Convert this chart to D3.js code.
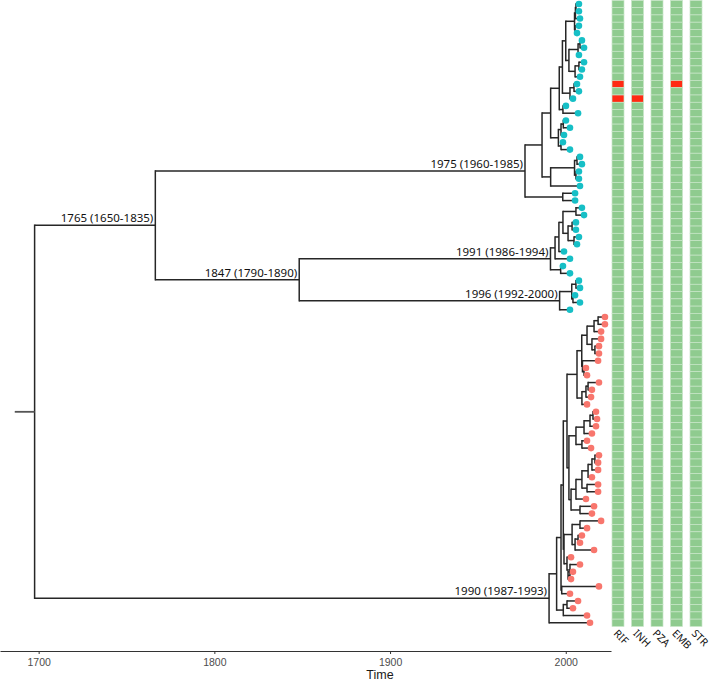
<!DOCTYPE html>
<html><head><meta charset="utf-8">
<script src="https://cdn.jsdelivr.net/npm/d3@7"></script>
<style>
html,body{margin:0;padding:0;background:#fff;}
svg{display:block;}
</style></head>
<body>
<svg id="chart" width="711" height="682"></svg>
<script>
// ---------- DATA ----------
// Dated phylogeny, Newick-like: leaf = group@tipYear, internal = (children)@nodeYear[optional label]
// group: b = lineage shown in teal, r = lineage shown in red
const subS1 = `(((b@2007.5,b@2007.5)@2005.8,b@2008.1)@2005.5,(b@2007.5,b@2006.4)@2005.3)@2005.0`;
const subS2 = `(((b@2009.2,b@2010.4)@2008.1,b@2007.5)@2007.0,((b@2010.4,b@2009.2)@2007.5,b@2008.1)@2005.3)@2001.8`;
const subT = `((b@2006.4,b@2007.5)@2004.7,b@2004.1)@2002.4`;
const subR = `(b@2000.1,b@2007.0)@1998.4`;
const subQ = `(((b@2000.1,b@2002.4)@1998.6,b@1999.0)@1997.3,(b@1998.4,b@2002.4)@1997.3)@1995.8`;
const subX = `((b@2008.1,b@2009.2)@2006.4,(b@2007.5,b@2007.5)@2005.8)@2005.0`;
const cladeB = `((((((${subS1},${subS2})@2000.0,${subT})@1998.1,${subR})@1996.3,${subQ})@1991.4,(${subX},b@2008.1)@1991.4)@1986.5,(b@2005.3,b@2005.3)@1998.3)@1976.8[1975 (1960-1985)]`;
const cladeD = `(((((b@2009.2,b@2010.4)@2005.8,((b@2005.8,b@2005.8)@2003.6,(b@2007.5,b@2006.4)@2004.7)@2001.3)@1998.4,b@1999.0)@1996.1,b@2002.4)@1993.9,(b@1998.4,b@2002.4)@1997.1)@1991.3[1991 (1986-1994)]`;
const cladeE = `(((b@2007.5,b@2008.1)@2005.8,(b@2005.3,b@2008.1)@2004.1)@2003.4,b@2002.4)@1996.5[1996 (1992-2000)]`;
const cladeU = `(((((r@2022.3,r@2022.3)@2018.4,r@2020.1)@2016.1,(r@2020.1,(r@2018.9,r@2018.9)@2016.6)@2014.9)@2012.1,(r@2018.4,(r@2011.5,r@2012.1)@2010.4)@2009.5)@2009.1,(((r@2018.9,r@2014.9)@2012.7,r@2014.4)@2011.5,r@2012.1)@2009.2)@2006.4`;
const cladeYZ = `(((((r@2017.2,r@2017.8)@2015.5,r@2017.2)@2013.8,r@2014.9)@2010.4,(r@2012.1,r@2014.4)@2009.2)@2005.8,((((((r@2018.9,r@2018.4)@2016.6,r@2018.4)@2014.9,r@2014.9)@2012.7,(r@2018.4,r@2018.4)@2012.1)@2009.2,r@2011.5)@2005.8,(r@2016.1,r@2014.9)@2008.1)@2003.0)@2001.8`;
const cladeH2 = `(((r@2020.1,r@2012.1)@2008.1,((r@2009.2,r@2008.1)@2007.0,r@2016.1)@2005.3)@2003.6,(r@2003.0,(r@2008.1,(r@2004.1,r@2003.0)@2001.3)@2002.4)@2000.7)@1999.0`;
const cladeJ = `(r@2018.9,r@2002.4)@1997.7`;
const cladeK = `((r@2007.0,r@2004.1)@2000.7,r@2012.1)@1998.6`;
const cladeC = `(${cladeD},${cladeE})@1848.3[1847 (1790-1890)]`;
const cladeA = `(${cladeB},${cladeC})@1766.4[1765 (1650-1835)]`;
const cladeF = `(((((${cladeU},${cladeYZ})@2000.7,${cladeH2})@1998.6,${cladeJ})@1997.3,${cladeK})@1994.8,r@2013.8)@1990.5[1990 (1987-1993)]`;
const treeNewick = `(${cladeA},${cladeF})@1697.7`;
const rootStemStart = 1686.4;

// x-axis
const axisTicks = [1700, 1800, 1900, 2000];
const axisTitle = "Time";

// drug-resistance heatmap (row = tip order from top, 0-based)
const drugs = ["RIF", "INH", "PZA", "EMB", "STR"];
const rifResistant = [11, 13];
const inhResistant = [13];
const pzaResistant = [];
const embResistant = [11];
const strResistant = [];
const resistantRows = [rifResistant, inhResistant, pzaResistant, embResistant, strResistant];

// ---------- PARSE ----------
function parseTree(s) {
  let i = 0;
  function node() {
    const n = { children: [] };
    if (s[i] === "(") {
      i++;
      n.children.push(node());
      while (s[i] === ",") { i++; n.children.push(node()); }
      i++; // ')'
    } else {
      n.group = s[i]; i++;
    }
    i++; // '@'
    const m = /^[0-9.]+/.exec(s.slice(i));
    n.year = +m[0]; i += m[0].length;
    if (s[i] === "[") { const j = s.indexOf("]", i); n.label = s.slice(i + 1, j); i = j + 1; }
    return n;
  }
  return node();
}
const root = parseTree(treeNewick);

// layout: tips in order, internal y = mean of children
const tips = [];
(function layout(n) {
  if (!n.children.length) { n.row = tips.length; tips.push(n); return n.row; }
  const ys = n.children.map(c => { c.parent = n; return layout(c); });
  n.row = d3.mean(ys);
  return n.row;
})(root);
const nodes = [];
(function walk(n) { nodes.push(n); n.children.forEach(walk); })(root);

// ---------- SCALES ----------
const svg = d3.select("#chart");
const x = d3.scaleLinear().domain([1678, 2025.75]).range([0, 611]);
const y = d3.scaleLinear().domain([0, tips.length - 1]).range([4, 622.8]);
const rowH = y(1) - y(0);
const xHeat = d3.scaleBand().domain(drugs).range([612, 702]).paddingInner(0.385).paddingOuter(0);

const lineColor = "#262626";
const g = svg.append("g");

// horizontal branches
g.selectAll("line.h").data(nodes.filter(n => n.parent)).join("line")
  .attr("x1", d => x(d.parent.year)).attr("x2", d => x(d.year))
  .attr("y1", d => y(d.row)).attr("y2", d => y(d.row))
  .attr("stroke", lineColor).attr("stroke-width", 1.5);
// vertical connectors
g.selectAll("line.v").data(nodes.filter(n => n.children.length)).join("line")
  .attr("x1", d => x(d.year)).attr("x2", d => x(d.year))
  .attr("y1", d => y(d3.min(d.children, c => c.row)) - 0.75)
  .attr("y2", d => y(d3.max(d.children, c => c.row)) + 0.75)
  .attr("stroke", lineColor).attr("stroke-width", 1.5);
// root stem
g.append("line")
  .attr("x1", x(rootStemStart)).attr("x2", x(root.year))
  .attr("y1", y(root.row)).attr("y2", y(root.row))
  .attr("stroke", "#555").attr("stroke-width", 1.8);

// node labels
g.selectAll("text.nl").data(nodes.filter(n => n.label)).join("text")
  .attr("x", d => x(d.year) - 2).attr("y", d => y(d.row) - 3)
  .attr("text-anchor", "end")
  .attr("font-family", "'Noto Sans', 'Open Sans', sans-serif")
  .attr("font-size", 11.5).attr("fill", "#111")
  .text(d => d.label);

// tip points
const tipColor = { b: "#16BFC6", r: "#F8766D" };
g.selectAll("circle.tip").data(tips).join("circle")
  .attr("cx", d => x(d.year)).attr("cy", d => y(d.row)).attr("r", 3.3)
  .attr("fill", d => tipColor[d.group]);

// heatmap
const cells = [];
drugs.forEach((drug, k) => tips.forEach((t, i) => cells.push({ drug, row: i, res: resistantRows[k].includes(i) })));
g.selectAll("rect.cell").data(cells).join("rect")
  .attr("x", d => xHeat(d.drug)).attr("width", xHeat.bandwidth())
  .attr("y", d => y(d.row) - rowH / 2).attr("height", rowH)
  .attr("fill", d => d.res ? "#FF2A14" : "#8FCB8F")
  .attr("stroke", "#c8e6c8").attr("stroke-width", 0.7);

// heatmap column labels
g.selectAll("text.drug").data(drugs).join("text")
  .attr("transform", d => `translate(${xHeat(d) + 1},${634}) rotate(45)`)
  .attr("font-family", "'Noto Sans', 'Open Sans', sans-serif")
  .attr("font-size", 10.5).attr("fill", "#111")
  .text(d => d);

// x axis
const axisG = svg.append("g").attr("transform", "translate(0,651)")
  .call(d3.axisBottom(x).tickValues(axisTicks).tickSize(3).tickSizeOuter(0).tickFormat(d3.format("d")));
axisG.select(".domain").attr("stroke", "#333").attr("stroke-width", 1.2);
axisG.selectAll(".tick line").attr("stroke", "#333");
axisG.selectAll(".tick text").attr("fill", "#4d4d4d").attr("font-size", 10.5)
  .attr("font-family", "'Liberation Sans', Arial, sans-serif").attr("dy", "0.85em");
svg.append("text").attr("x", 380).attr("y", 679).attr("text-anchor", "middle")
  .attr("font-family", "'Liberation Sans', Arial, sans-serif").attr("font-size", 12.5).attr("fill", "#1a1a1a")
  .text(axisTitle);
</script>
</body></html>
